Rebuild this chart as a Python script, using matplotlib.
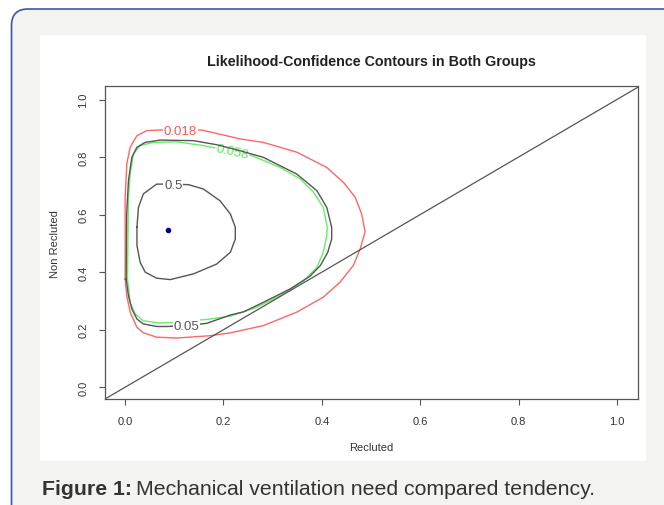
import matplotlib
matplotlib.use('Agg')
import matplotlib.pyplot as plt
from matplotlib.patches import FancyBboxPatch, Rectangle

plt.rcParams['font.family'] = ['Liberation Sans', 'DejaVu Sans']

# contour traces (Recluted, Non Recluted)
red_x = [0.0, 0.0, 0.0033, 0.0102, 0.0238, 0.044, 0.07, 0.112, 0.156, 0.234, 0.281, 0.349,
         0.410, 0.444, 0.468, 0.481, 0.488, 0.478, 0.464, 0.437, 0.403, 0.349, 0.281, 0.214,
         0.173, 0.105, 0.064, 0.037, 0.024, 0.0102, 0.0033, 0.0]
red_y = [0.376, 0.66, 0.776, 0.834, 0.874, 0.892, 0.894, 0.893, 0.894, 0.863, 0.851, 0.817,
         0.764, 0.712, 0.660, 0.602, 0.54, 0.481, 0.423, 0.365, 0.313, 0.261, 0.214, 0.189,
         0.179, 0.171, 0.174, 0.189, 0.208, 0.261, 0.318, 0.376]

black05_x = [0.002, 0.003, 0.0067, 0.0136, 0.0238, 0.0407, 0.071, 0.139, 0.186, 0.234, 0.281,
             0.349, 0.390, 0.410, 0.420, 0.420, 0.412, 0.397, 0.376, 0.336, 0.281, 0.241,
             0.214, 0.166, 0.125, 0.085, 0.064, 0.037, 0.024, 0.0136, 0.0067, 0.002]
black05_y = [0.376, 0.60, 0.718, 0.799, 0.834, 0.851, 0.859, 0.857, 0.843, 0.822, 0.799,
             0.741, 0.683, 0.625, 0.556, 0.515, 0.469, 0.423, 0.386, 0.342, 0.295, 0.262,
             0.251, 0.222, 0.214, 0.211, 0.211, 0.220, 0.237, 0.272, 0.318, 0.376]

green_x = [0.0047, 0.0067, 0.0102, 0.017, 0.0305, 0.058, 0.105, 0.159, 0.200, 0.258, 0.315,
           0.356, 0.383, 0.403, 0.411, 0.410, 0.403, 0.390, 0.363, 0.315, 0.268, 0.214,
           0.173, 0.105, 0.071, 0.037, 0.0203, 0.0102, 0.0047]
green_y = [0.376, 0.660, 0.741, 0.811, 0.840, 0.851, 0.853, 0.840, 0.826, 0.805, 0.764,
           0.724, 0.678, 0.625, 0.556, 0.527, 0.469, 0.417, 0.370, 0.318, 0.278, 0.247,
           0.237, 0.226, 0.223, 0.231, 0.255, 0.295, 0.376]

black5_x = [0.024, 0.027, 0.037, 0.064, 0.095, 0.129, 0.159, 0.193, 0.214, 0.224, 0.224,
            0.214, 0.186, 0.139, 0.0915, 0.064, 0.0407, 0.0305, 0.024, 0.024]
black5_y = [0.556, 0.625, 0.672, 0.706, 0.706, 0.704, 0.689, 0.648, 0.602, 0.556, 0.515,
            0.469, 0.428, 0.394, 0.374, 0.379, 0.400, 0.434, 0.492, 0.556]

mle_x = [0.088]
mle_y = [0.547]

# label text, position, rotation
labels = [('0.018', 0.112, 0.890, 0), ('0.058', 0.218, 0.818, -12),
          ('0.5', 0.098, 0.704, 0), ('0.05', 0.125, 0.214, 0)]
label_colors = ['#ff5555', '#55ee55', '#555555', '#555555']

fig = plt.figure(figsize=(6.64, 5.06), dpi=100)
fig.patch.set_facecolor('white')

# card with rounded border and white panel
card = FancyBboxPatch((11.5 / 664, -20 / 506), 680 / 664, (506 - 10 + 20) / 506,
                      boxstyle='round,pad=0,rounding_size=0.025',
                      transform=fig.transFigure, facecolor='#f3f3f1', edgecolor='#3b56a6',
                      linewidth=1.2, mutation_aspect=664 / 506, zorder=-3)
fig.patches.append(card)
fig.patches.append(Rectangle((40 / 664, (506 - 462) / 506), 606 / 664, 426 / 506,
                             transform=fig.transFigure, facecolor='white', edgecolor='none',
                             zorder=-2))

ax = fig.add_axes([105 / 664, (506 - 400) / 506, 533 / 664, 312.7 / 506])
ax.set_facecolor('white')

ax.plot(red_x, red_y, color='#ff6666', lw=1.0, zorder=2)
ax.plot(green_x, green_y, color='#66ee66', lw=1.0, zorder=3)
ax.plot(black05_x, black05_y, color='#555555', lw=1.0, zorder=4)
ax.plot(black5_x, black5_y, color='#555555', lw=1.0, zorder=4)
ax.axline((0, 0), (1, 1), color='#555555', lw=0.9, zorder=4)
ax.plot(mle_x, mle_y, 'o', color='#00008b', ms=3, zorder=6)

zs = [2.5, 3.5, 4.5, 4.5]
for (txt, lx, ly, rot), c, z in zip(labels, label_colors, zs):
    ax.text(lx, ly, txt, color=c, fontsize=9.5, rotation=rot, ha='center', va='center',
            zorder=z, bbox=dict(facecolor='white', edgecolor='none', pad=0.6))

ax.set_xlim(-0.041, 1.043)
ax.set_ylim(-0.041, 1.046)
ax.set_xticks([0.0, 0.2, 0.4, 0.6, 0.8, 1.0])
ax.set_yticks([0.0, 0.2, 0.4, 0.6, 0.8, 1.0])
ax.set_xticklabels(['0.0', '0.2', '0.4', '0.6', '0.8', '1.0'])
ax.set_yticklabels(['0.0', '0.2', '0.4', '0.6', '0.8', '1.0'], rotation=90, va='center')
ax.tick_params(direction='out', length=4, width=0.8, color='#555555', labelsize=8,
               labelcolor='#333333', pad=8)
for s in ax.spines.values():
    s.set_color('#555555')
    s.set_linewidth(0.9)

ax.set_title('Likelihood-Confidence Contours in Both Groups', fontsize=10.3,
             fontweight='bold', color='#222222', pad=15)
ax.set_xlabel('Recluted', fontsize=8, color='#333333', labelpad=12)
ax.set_ylabel('Non Recluted', fontsize=8, color='#333333', labelpad=13)

# caption
t1 = fig.text(42 / 664, 1 - 490 / 506, 'Figure 1:', fontsize=15.3, fontweight='bold',
              color='#333333', va='center', ha='left')
fig.canvas.draw()
bb = t1.get_window_extent()
fig.text(bb.x1 / 664 + 4 / 664, 1 - 490 / 506,
         'Mechanical ventilation need compared tendency.', fontsize=15.3,
         color='#333333', va='center', ha='left')

fig.savefig('out.png', dpi=100)
